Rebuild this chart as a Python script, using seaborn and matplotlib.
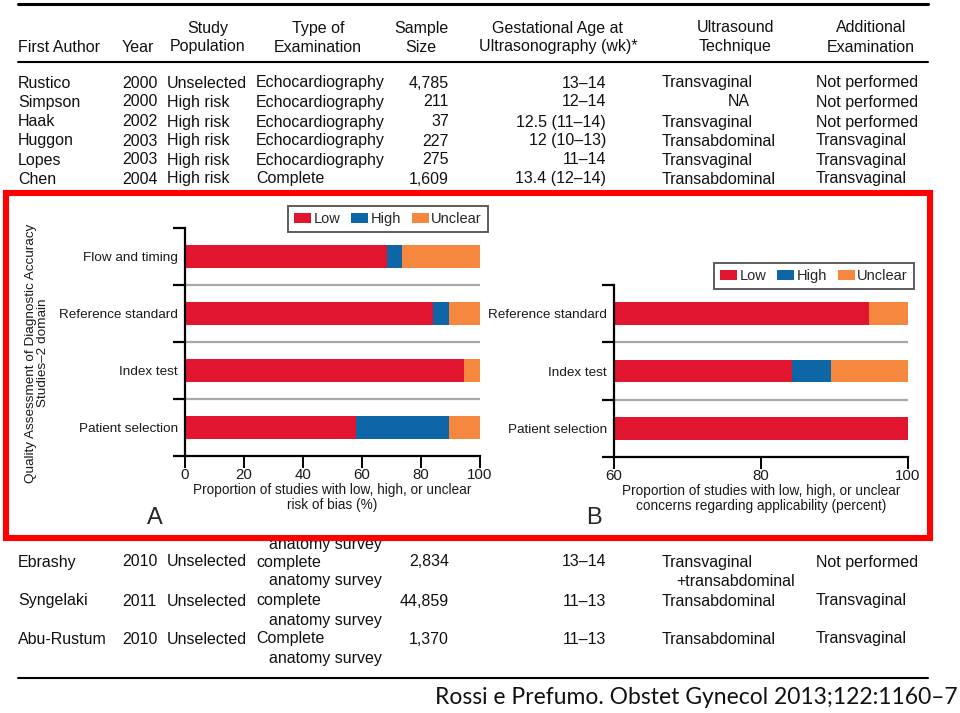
import numpy as np
import pandas as pd
import matplotlib
matplotlib.use('Agg')
import matplotlib.pyplot as plt
import seaborn as sns
from matplotlib.patches import Rectangle, Patch
from matplotlib.lines import Line2D

# ---- chart data (percent of 19 studies) ----
domains_a = ['Flow and timing', 'Reference standard', 'Index test', 'Patient selection']
low_a = [68.4, 84.2, 94.7, 57.9]
high_a = [5.3, 5.3, 0.0, 31.6]
unclear_a = [26.3, 10.5, 5.3, 10.5]

domains_b = ['Reference standard', 'Index test', 'Patient selection']
low_b = [94.7, 84.2, 100.0]
high_b = [0.0, 5.3, 0.0]
unclear_b = [5.3, 10.5, 0.0]

levels = ['Low', 'High', 'Unclear']
level_colors = ['#E1152F', '#0E66A6', '#F5873F']

# ---- table data ----
headers = ['First Author', 'Year', 'Study\nPopulation', 'Type of\nExamination', 'Sample\nSize',
           'Gestational Age at\nUltrasonography (wk)*', 'Ultrasound\nTechnique', 'Additional\nExamination']

authors_top = ['Rustico', 'Simpson', 'Haak', 'Huggon', 'Lopes', 'Chen']
years_top = ['2000', '2000', '2002', '2003', '2003', '2004']
population_top = ['Unselected', 'High risk', 'High risk', 'High risk', 'High risk', 'High risk']
exam_top = ['Echocardiography'] * 5 + ['Complete']
sample_top = ['4,785', '211', '37', '227', '275', '1,609']
ga_top = ['13–14', '12–14', '12.5 (11–14)', '12 (10–13)', '11–14', '13.4 (12–14)']
technique_top = ['Transvaginal', 'NA', 'Transvaginal', 'Transabdominal', 'Transvaginal', 'Transabdominal']
additional_top = ['Not performed', 'Not performed', 'Not performed', 'Transvaginal', 'Transvaginal', 'Transvaginal']

authors_bot = ['Ebrashy', 'Syngelaki', 'Abu-Rustum']
years_bot = ['2010', '2011', '2010']
population_bot = ['Unselected', 'Unselected', 'Unselected']
exam_bot = ['complete', 'complete', 'Complete']
sample_bot = ['2,834', '44,859', '1,370']
ga_bot = ['13–14', '11–13', '11–13']
technique_bot = ['Transvaginal', 'Transabdominal', 'Transabdominal']
additional_bot = ['Not performed', 'Transvaginal', 'Transvaginal']

citation = 'Rossi e Prefumo. Obstet Gynecol 2013;122:1160–7'

sns.set_style('ticks')
plt.rcParams['font.family'] = ['Liberation Sans', 'DejaVu Sans']

W, H = 960, 713
fig = plt.figure(figsize=(W / 100, H / 100), dpi=100)


def fx(x):
    return x / W


def fy(y):
    return 1 - y / H


# ---- table in the background ----
tfont = ['Liberation Sans', 'DejaVu Sans']
tsize = 11.5
tk = dict(fontsize=tsize, family=tfont, va='center', zorder=0.2, color='#111111')

fig.add_artist(Line2D([fx(18), fx(928)], [fy(4), fy(4)], color='black', lw=2.2))
fig.add_artist(Line2D([fx(18), fx(928)], [fy(62), fy(62)], color='black', lw=1.5))
fig.add_artist(Line2D([fx(18), fx(928)], [fy(678), fy(678)], color='black', lw=1.5))

# headers
fig.text(fx(18), fy(47), headers[0], ha='left', **tk)
fig.text(fx(122), fy(47), headers[1], ha='left', **tk)
head_centers = [208, 318, 421, 558, 735, 871]
for h, cx in zip(headers[2:], head_centers):
    l1, l2 = h.split('\n')
    fig.text(fx(cx), fy(28), l1, ha='center', **tk)
    fig.text(fx(cx), fy(47), l2, ha='center', **tk)


def draw_rows(ys, cols):
    authors, years, pop, exam, sample, ga, tech, add = cols
    for i, y in enumerate(ys):
        fig.text(fx(18), fy(y), authors[i], ha='left', **tk)
        fig.text(fx(122), fy(y), years[i], ha='left', **tk)
        fig.text(fx(167), fy(y), pop[i], ha='left', **tk)
        fig.text(fx(256), fy(y), exam[i], ha='left', **tk)
        fig.text(fx(449), fy(y), sample[i], ha='right', **tk)
        fig.text(fx(606), fy(y), ga[i], ha='right', **tk)
        if tech[i] == 'NA':
            fig.text(fx(750), fy(y), tech[i], ha='right', **tk)
        else:
            fig.text(fx(662), fy(y), tech[i], ha='left', **tk)
        fig.text(fx(816), fy(y), add[i], ha='left', **tk)


draw_rows([83, 102, 122, 141, 160, 179],
          [authors_top, years_top, population_top, exam_top, sample_top, ga_top, technique_top, additional_top])
draw_rows([562, 601, 639],
          [authors_bot, years_bot, population_bot, exam_bot, sample_bot, ga_bot, technique_bot, additional_bot])
for y in [544, 581, 620, 658]:
    fig.text(fx(382), fy(y), 'anatomy survey', ha='right', **tk)
fig.text(fx(795), fy(581), '+transabdominal', ha='right', **tk)

fig.text(fx(958), fy(698), citation, ha='right', va='center', fontsize=16.5,
         family=['Lato', 'DejaVu Sans'], color='#111111')

# ---- red frame ----
frame = Rectangle((fx(5.5), fy(537.5)), fx(930) - fx(5.5), fy(193) - fy(537.5),
                  transform=fig.transFigure, facecolor='white', edgecolor='#FF0000',
                  lw=4.4, zorder=0.5)
fig.add_artist(frame)

# ---- panels ----
ax_a = fig.add_axes([fx(185), fy(456), fx(480) - fx(185), fy(228) - fy(456)])
ax_b = fig.add_axes([fx(614), fy(457), fx(908) - fx(614), fy(285) - fy(457)])


def stacked(ax, domains, low, high, unclear, xlim, xticks, xlabel):
    df = pd.DataFrame({'domain': domains, 'low': low, 'high': high, 'unclear': unclear})
    df['low_high'] = df['low'] + df['high']
    df['total'] = df['low_high'] + df['unclear']
    for col, c in zip(['total', 'low_high', 'low'], level_colors[::-1]):
        sns.barplot(data=df, y='domain', x=col, order=domains, color=c, saturation=1,
                    width=0.4, linewidth=0, errorbar=None, ax=ax)
    n = len(domains)
    for b in np.arange(0.5, n - 0.5, 1):
        ax.axhline(b, color='#A8A8A8', lw=1.6, zorder=0.5)
    ax.set_ylim(n - 0.5, -0.5)
    ax.set_xlim(*xlim)
    ax.set_yticks(np.arange(-0.5, n, 1))
    ax.set_yticklabels([])
    ax.set_yticks(np.arange(n), minor=True)
    ax.set_yticklabels(domains, minor=True, fontsize=9.7, color='#1a1a1a')
    ax.tick_params(axis='y', which='major', length=9, width=1.6, direction='out', color='black')
    ax.tick_params(axis='y', which='minor', length=0, pad=5)
    ax.set_xticks(xticks)
    ax.set_xticklabels([str(t) for t in xticks], fontsize=10.8, color='#1a1a1a')
    ax.tick_params(axis='x', length=8.5, width=1.4, pad=0, color='black')
    ax.set_ylabel('')
    ax.set_xlabel(xlabel, fontsize=9.8, labelpad=1, linespacing=1.1, color='#1a1a1a')
    for s in ['top', 'right']:
        ax.spines[s].set_visible(False)
    for s in ['left', 'bottom']:
        ax.spines[s].set_linewidth(1.6)
        ax.spines[s].set_color('black')
    ax.patch.set_visible(False)
    ax.set_zorder(1)


stacked(ax_a, domains_a, low_a, high_a, unclear_a, (0, 100), [0, 20, 40, 60, 80, 100],
        'Proportion of studies with low, high, or unclear\nrisk of bias (%)')
stacked(ax_b, domains_b, low_b, high_b, unclear_b, (60, 100), [60, 80, 100],
        'Proportion of studies with low, high, or unclear\nconcerns regarding applicability (percent)')

handles = [Patch(facecolor=c, edgecolor='none', label=l) for c, l in zip(level_colors, levels)]
for ax, (cx, cy) in [(ax_a, (388, 219)), (ax_b, (814, 276))]:
    leg = ax.legend(handles=handles, loc='center', bbox_to_anchor=(fx(cx), fy(cy)),
                    bbox_transform=fig.transFigure, ncol=3, fontsize=10.5, frameon=True,
                    fancybox=False, edgecolor='#333333', handlelength=1.15, handleheight=0.75,
                    handletextpad=0.18, columnspacing=0.75, borderpad=0.4, borderaxespad=0)
    leg.get_frame().set_linewidth(1.4)

fig.text(fx(37), fy(353), 'Quality Assessment of Diagnostic Accuracy\nStudies–2 domain',
         rotation=90, ha='center', va='center', fontsize=9.7, linespacing=1.1,
         color='#1a1a1a', zorder=2)
fig.text(fx(155), fy(518), 'A', ha='center', va='center', fontsize=17, zorder=2)
fig.text(fx(594), fy(518), 'B', ha='center', va='center', fontsize=17, zorder=2)

fig.savefig('out.png', dpi=100)
